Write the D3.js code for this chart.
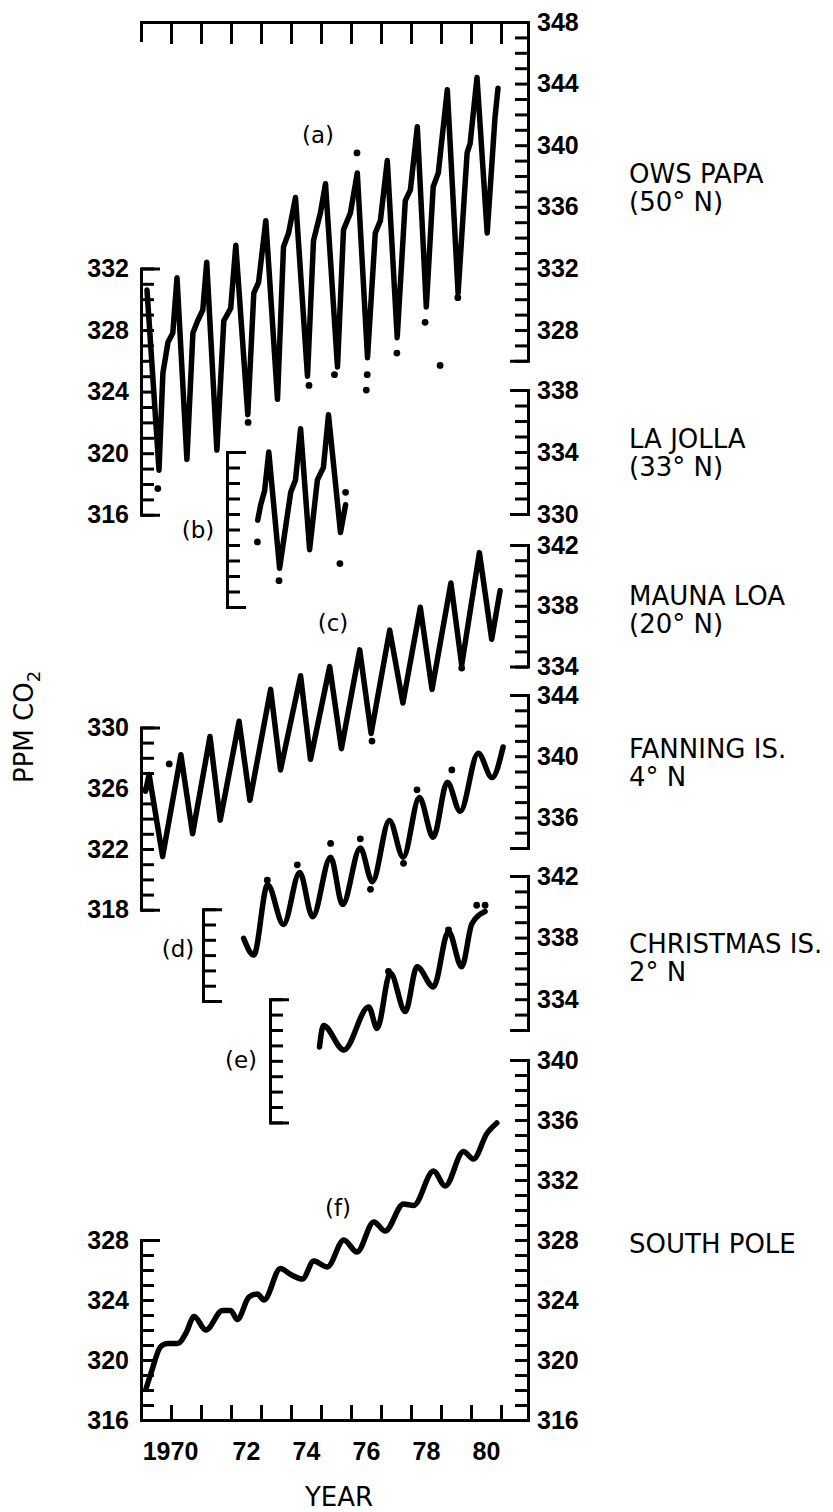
<!DOCTYPE html>
<html lang="en">
<head>
<meta charset="utf-8">
<title>CO2 records at six stations</title>
<script src="https://d3js.org/d3.v7.min.js"></script>
<style>
  body { margin: 0; background: #fff; }
</style>
</head>
<body>
<script>
// [year, ppm]
var owsPapa = [
  [1969.20,330.6],[1969.60,318.9],[1969.73,325.2],[1969.90,327.2],[1970.06,327.8],[1970.20,331.4],
  [1970.53,319.6],[1970.73,327.8],[1970.89,328.6],[1971.06,329.3],[1971.19,332.4],
  [1971.53,320.2],[1971.76,328.6],[1971.99,329.4],[1972.16,333.5],
  [1972.56,322.5],[1972.76,330.4],[1972.92,331.1],[1973.16,335.1],
  [1973.55,323.5],[1973.75,333.4],[1973.92,334.3],[1974.15,336.6],
  [1974.55,325.0],[1974.75,333.8],[1974.98,335.6],[1975.15,337.5],
  [1975.55,325.6],[1975.75,334.5],[1975.98,335.6],[1976.21,338.2],
  [1976.55,326.2],[1976.81,334.3],[1976.98,335.1],[1977.21,339.0],
  [1977.54,327.5],[1977.81,336.4],[1977.98,337.1],[1978.21,341.2],
  [1978.51,329.5],[1978.74,337.3],[1978.91,338.2],[1979.21,343.6],
  [1979.57,330.4],[1979.87,339.5],[1979.97,340.1],[1980.20,344.4],
  [1980.54,334.3],[1980.80,341.8],[1980.90,343.7]
];
var owsDots = [
  [1969.56,317.7],[1972.57,322.0],[1974.60,324.4],[1975.45,325.1],[1976.20,339.5],[1976.54,325.1],
  [1976.51,324.1],[1977.53,326.5],[1978.47,328.5],[1978.97,325.7],[1979.56,330.1]
];

var laJolla = [
  [1972.89,329.6],[1972.99,330.6],[1973.12,331.5],[1973.26,334.0],[1973.62,326.5],[1973.99,331.4],
  [1974.15,332.2],[1974.32,335.5],[1974.62,327.7],[1974.88,332.2],[1975.08,333.0],[1975.25,336.4],
  [1975.65,328.8],[1975.82,330.6]
];
var laJollaDots = [[1972.88,328.2],[1973.60,325.7],[1975.63,326.8],[1975.82,331.4]];

var maunaLoa = [
  [1969.15,325.8],[1969.27,326.9],[1969.72,321.5],[1970.33,328.2],[1970.72,323.0],[1971.30,329.4],
  [1971.64,323.9],[1972.27,330.4],[1972.63,325.2],[1973.32,332.5],[1973.65,327.2],[1974.32,333.4],
  [1974.65,327.9],[1975.29,334.0],[1975.68,328.6],[1976.29,335.1],[1976.67,329.6],[1977.29,336.4],
  [1977.73,331.6],[1978.31,337.9],[1978.70,332.5],[1979.33,339.5],[1979.69,334.1],[1980.28,341.5],
  [1980.69,335.8],[1980.97,339.0]
];
var maunaLoaDots = [[1976.70,329.1],[1979.69,333.9],[1969.94,327.6]];

var fanning = [
  [1972.42,328.1],[1972.76,327.0],[1973.22,331.6],[1973.75,329.0],[1974.29,332.4],[1974.72,329.5],
  [1975.32,333.4],[1975.72,330.3],[1976.31,334.0],[1976.71,331.8],[1977.28,335.8],[1977.74,333.4],
  [1978.28,337.3],[1978.74,334.7],[1979.21,338.3],[1979.64,336.4],[1980.24,340.2],[1980.70,338.6],
  [1981.07,340.6]
];
var fanningDots = [
  [1973.21,331.9],[1974.21,332.9],[1975.32,334.3],[1976.31,334.6],[1976.65,331.3],[1977.75,333.0],
  [1978.20,337.8],[1979.36,339.1]
];

var christmas = [
  [1974.95,330.9],[1975.08,332.3],[1975.76,330.7],[1976.59,333.5],[1976.87,332.1],[1977.31,335.7],
  [1977.81,333.2],[1978.20,336.1],[1978.75,334.8],[1979.25,338.4],[1979.69,336.1],[1980.03,338.9],
  [1980.47,339.7]
];
var christmasDots = [[1977.25,335.8],[1979.25,338.5],[1980.19,340.1],[1980.47,340.1]];

var southPole = [
  [1969.17,318.1],[1969.33,319.1],[1969.66,320.9],[1969.89,321.1],[1970.22,321.1],[1970.50,321.8],
  [1970.77,322.9],[1971.16,322.0],[1971.72,323.3],[1971.99,323.3],[1972.21,322.7],[1972.60,324.2],
  [1972.88,324.4],[1973.10,324.0],[1973.65,326.1],[1973.99,325.7],[1974.38,325.4],[1974.76,326.6],
  [1975.21,326.2],[1975.76,328.0],[1976.20,327.2],[1976.76,329.2],[1977.14,328.6],[1977.75,330.4],
  [1978.09,330.3],[1978.75,332.6],[1979.14,331.6],[1979.75,333.9],[1980.08,333.4],[1980.53,335.1],
  [1980.86,335.8]
];

// tick labels
var years = d3.range(1970, 1982);
var yearLabels = ["1970", "72", "74", "76", "78", "80"];
var owsRightLabels = [348, 344, 340, 336, 332, 328];
var owsLeftLabels = [332, 328, 324, 320, 316];
var ljRightLabels = [338, 334, 330];
var mlRightLabels = [342, 338, 334];
var mlLeftLabels = [330, 326, 322, 318];
var fanRightLabels = [344, 340, 336];
var chrRightLabels = [342, 338, 334];
var spRightLabels = [340, 336, 332, 328, 324, 320, 316];
var spLeftLabels = [328, 324, 320, 316];

var w = 833, h = 1512;
var numFont = "'Liberation Sans', Arial, sans-serif";
var txtFont = "'DejaVu Sans', Verdana, sans-serif";

var svg = d3.select("body").append("svg")
  .attr("width", w).attr("height", h)
  .style("background", "#fff");

var x = d3.scaleLinear().domain([1969, 1981.9]).range([141, 528]);
var xRight = x(1981.9);

// each strip has its own ppm scale
function strip(topVal, topY, pxPer) {
  return d3.scaleLinear().domain([topVal - 30, topVal]).range([topY + 30 * pxPer, topY]);
}

function styleAxis(g) {
  g.select(".domain").attr("stroke", "#000").attr("stroke-width", 3).attr("fill", "none");
  g.selectAll(".tick line").attr("stroke", "#000").attr("stroke-width", 3);
  g.selectAll(".tick text")
    .attr("font-family", numFont).attr("font-weight", "bold")
    .attr("font-size", 25).attr("fill", "#000");
}

// scale limited to the stretch an axis covers
function part(y, lo, hi) {
  return y.copy().domain([lo, hi]).range([y(lo), y(hi)]);
}

function rightAxis(y, lo, hi, labels) {
  var ax = d3.axisRight(part(y, lo, hi)).tickValues(d3.range(lo, hi + 1))
    .tickSize(-13).tickSizeOuter(-18).tickPadding(9)
    .tickFormat(function(d) { return labels.indexOf(d) >= 0 ? d : ""; });
  svg.append("g").attr("transform", "translate(" + xRight + ",0)").call(ax).call(styleAxis);
}

function leftAxis(y, xpos, lo, hi, labels) {
  var ax = d3.axisLeft(part(y, lo, hi)).tickValues(d3.range(lo, hi + 1))
    .tickSize(-13).tickSizeOuter(-19).tickPadding(12)
    .tickFormat(function(d) { return labels.indexOf(d) >= 0 ? d : ""; });
  svg.append("g").attr("transform", "translate(" + xpos + ",0)").call(ax).call(styleAxis);
}

function drawSeries(data, dots, y, curve) {
  var line = d3.line().x(function(d) { return x(d[0]); }).y(function(d) { return y(d[1]); }).curve(curve);
  svg.append("path").datum(data)
    .attr("d", line)
    .attr("fill", "none").attr("stroke", "#000")
    .attr("stroke-width", 5.5).attr("stroke-linejoin", "round").attr("stroke-linecap", "round");
  svg.append("g").selectAll("circle").data(dots).enter().append("circle")
    .attr("cx", function(d) { return x(d[0]); })
    .attr("cy", function(d) { return y(d[1]); })
    .attr("r", 3.4).attr("fill", "#000");
}

function stationName(lines, xpos, y0) {
  var t = svg.append("text").attr("font-family", txtFont).attr("font-size", 26).attr("fill", "#000");
  lines.forEach(function(s, i) {
    t.append("tspan").attr("x", xpos).attr("y", y0 + i * 28).text(s);
  });
}

function tag(s, cx, by) {
  svg.append("text").attr("x", cx).attr("y", by)
    .attr("text-anchor", "middle").attr("font-family", txtFont).attr("font-size", 23)
    .attr("fill", "#000").text(s);
}

// strips
var yOws = strip(348, 22, 15.4);
var yLj = strip(338, 390, 15.5);
var yMl = strip(342, 545, 15.2);
var yFan = strip(344, 695, 15.3);
var yChr = strip(342, 876, 15.4);
var ySp = strip(340, 1060, 15.0);

// top frame with yearly ticks
svg.append("g").attr("transform", "translate(0," + yOws(348) + ")")
  .call(d3.axisTop(x).tickValues(years).tickSize(-22).tickSizeOuter(-20).tickFormat(""))
  .call(styleAxis);

// bottom year axis
svg.append("g").attr("transform", "translate(0," + ySp(316) + ")")
  .call(d3.axisBottom(x).tickValues(years).tickSize(-15).tickSizeOuter(-15).tickFormat(""))
  .call(styleAxis);

var yl = svg.append("g").attr("transform", "translate(0," + ySp(316) + ")")
  .call(d3.axisBottom(x).tickValues(yearLabels.map(function(d, i) { return 1970.5 + 2 * i; }))
    .tickSize(0).tickPadding(22).tickFormat(function(d, i) { return yearLabels[i]; }))
  .call(styleAxis);
yl.select(".domain").remove();
yl.selectAll(".tick text").filter(function(d, i) { return i === 0; }).attr("dx", -16);

// right scales
rightAxis(yOws, 326, 348, owsRightLabels);
rightAxis(yLj, 330, 338, ljRightLabels);
rightAxis(yMl, 334, 342, mlRightLabels);
rightAxis(yFan, 334, 344, fanRightLabels);
rightAxis(yChr, 332, 342, chrRightLabels);
rightAxis(ySp, 316, 340, spRightLabels);

// left scales
leftAxis(yOws, 141, 316, 332, owsLeftLabels);
leftAxis(yLj, 227, 324, 334, []);
leftAxis(yMl, 141, 318, 330, mlLeftLabels);
leftAxis(yFan, 203, 324, 330, []);
leftAxis(yChr, 270, 326, 334, []);
leftAxis(ySp, 141, 316, 328, spLeftLabels);

// records
drawSeries(owsPapa, owsDots, yOws, d3.curveLinear);
drawSeries(laJolla, laJollaDots, yLj, d3.curveLinear);
drawSeries(maunaLoa, maunaLoaDots, yMl, d3.curveLinear);
drawSeries(fanning, fanningDots, yFan, d3.curveMonotoneX);
drawSeries(christmas, christmasDots, yChr, d3.curveMonotoneX);
drawSeries(southPole, [], ySp, d3.curveMonotoneX);

// panel tags
tag("(a)", 318, 143);
tag("(b)", 198, 538);
tag("(c)", 333, 631);
tag("(d)", 178, 957);
tag("(e)", 241, 1068);
tag("(f)", 338, 1216);

// station names
stationName(["OWS PAPA", "(50\u00B0 N)"], 629, 183);
stationName(["LA JOLLA", "(33\u00B0 N)"], 629, 448);
stationName(["MAUNA LOA", "(20\u00B0 N)"], 629, 605);
stationName(["FANNING IS.", "4\u00B0 N"], 629, 758);
stationName(["CHRISTMAS IS.", "2\u00B0 N"], 629, 953);
stationName(["SOUTH POLE"], 629, 1253);

// axis titles
svg.append("text").attr("x", 339).attr("y", 1506)
  .attr("text-anchor", "middle").attr("font-family", txtFont).attr("font-size", 26)
  .attr("fill", "#000").text("YEAR");

var yt = svg.append("text").attr("transform", "translate(33,783) rotate(-90)")
  .attr("font-family", txtFont).attr("font-size", 26).attr("fill", "#000");
yt.append("tspan").text("PPM CO");
yt.append("tspan").attr("dy", 7).attr("font-size", 18).text("2");
</script>
</body>
</html>
